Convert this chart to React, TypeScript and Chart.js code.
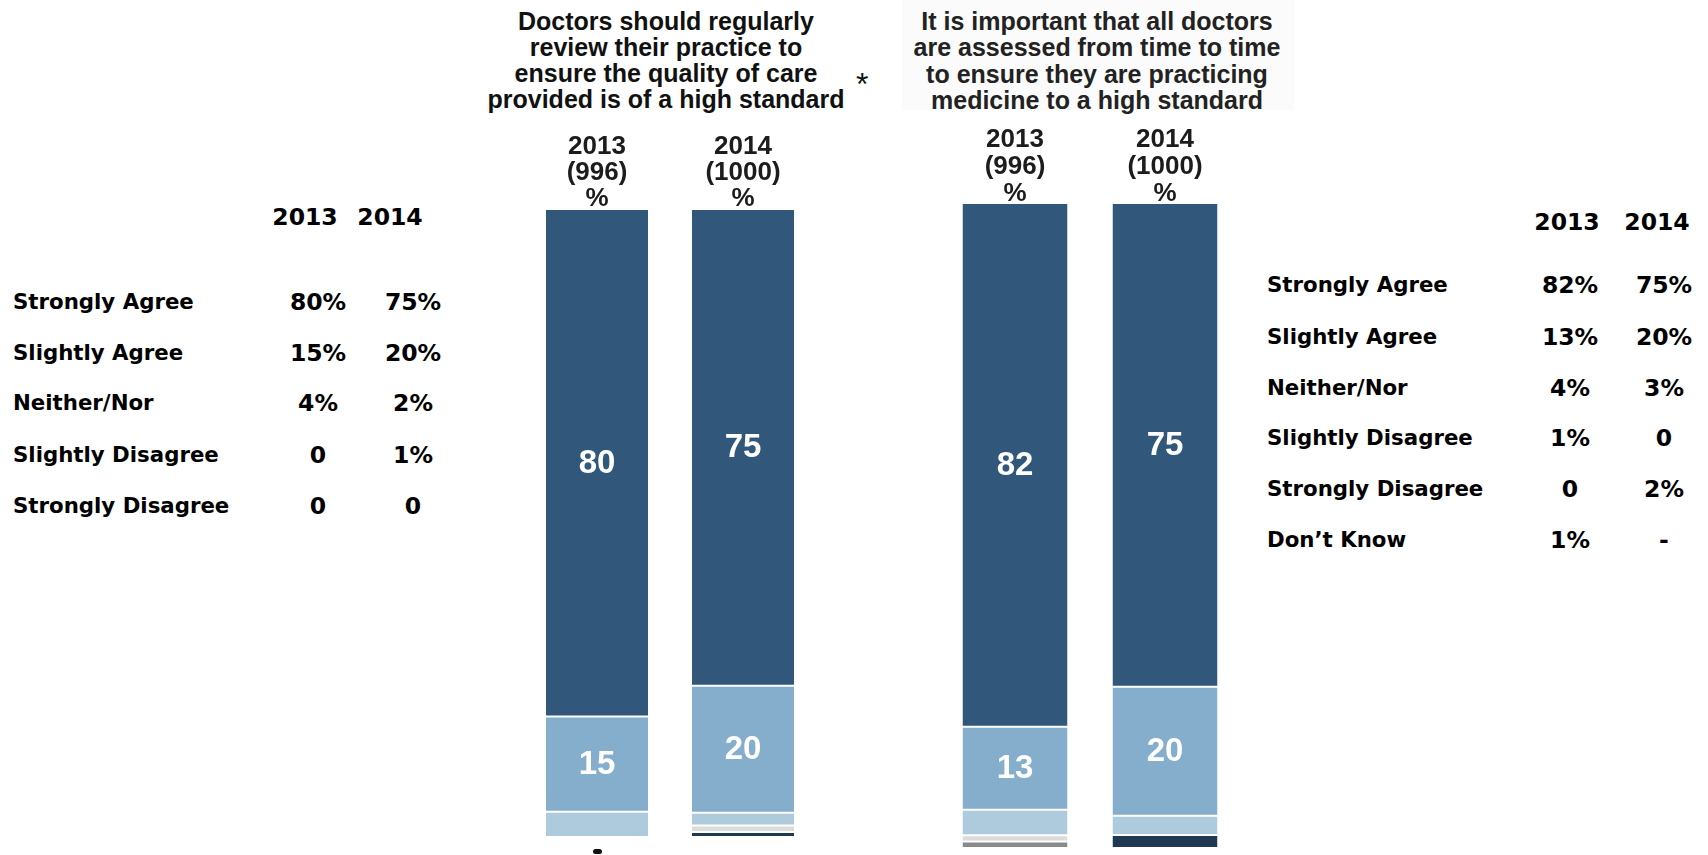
import React, { useEffect, useRef } from "react";
import { Chart, registerables } from "chart.js";
Chart.register(...registerables);

// ---------------- data ----------------
const responses = ["Strongly Agree", "Slightly Agree", "Neither/Nor", "Slightly Disagree", "Strongly Disagree", "Don\u2019t Know"];
const responseColors = ["#31587A", "#84AECB", "#AECADD", "#DCDCDC", "#1F3A50", "#8A8A8A"];
const years = ["2013", "2014"];
const q1Bases = ["(996)", "(1000)"];
const q2Bases = ["(996)", "(1000)"];

// bar segment values (order = responses)
const q1Values2013 = [80, 15, 4, 0, 0, 0];
const q1Values2014 = [75, 20, 2, 1, 0.8, 0];
const q2Values2013 = [82, 13, 4, 1, 0, 1];
const q2Values2014 = [75, 20, 3, 0, 2, 0];

// side tables
const q1TableRows = ["Strongly Agree", "Slightly Agree", "Neither/Nor", "Slightly Disagree", "Strongly Disagree"];
const q1Table2013 = ["80%", "15%", "4%", "0", "0"];
const q1Table2014 = ["75%", "20%", "2%", "1%", "0"];
const q2TableRows = ["Strongly Agree", "Slightly Agree", "Neither/Nor", "Slightly Disagree", "Strongly Disagree", "Don\u2019t Know"];
const q2Table2013 = ["82%", "13%", "4%", "1%", "0", "1%"];
const q2Table2014 = ["75%", "20%", "3%", "0", "2%", "-"];

const q1Title = ["Doctors should regularly", "review their practice to", "ensure the quality of care", "provided is of a high standard"];
const q2Title = ["It is important that all doctors", "are assessed from time to time", "to ensure they are practicing", "medicine to a high standard"];

// ---------------- helpers ----------------
const SANS = "'Liberation Sans', Arial, sans-serif";
const VERD = "'DejaVu Sans', Verdana, sans-serif";

const valueLabelPlugin = {
  id: "valueLabels",
  afterDatasetsDraw(chart: any) {
    const ctx = chart.ctx;
    ctx.save();
    ctx.font = `bold 33px ${SANS}`;
    ctx.fillStyle = "#ffffff";
    ctx.textAlign = "center";
    ctx.textBaseline = "middle";
    chart.data.datasets.forEach((ds: any, di: number) => {
      const meta = chart.getDatasetMeta(di);
      meta.data.forEach((bar: any, i: number) => {
        const raw = ds.rawValues[i];
        if (raw >= 10) {
          ctx.fillText(String(raw), bar.x, (bar.y + bar.base) / 2 + 1);
        }
      });
    });
    ctx.restore();
  },
};

function buildDatasets(a: number[], b: number[]) {
  const sumA = a.reduce((s, v) => s + v, 0);
  const sumB = b.reduce((s, v) => s + v, 0);
  // stack bottom -> top: Don't know, Strongly disagree, Slightly disagree, Neither, Slightly agree, Strongly agree
  const order = [5, 4, 3, 2, 1, 0];
  return order.map((k) => ({
    label: responses[k],
    data: [(a[k] / sumA) * 100, (b[k] / sumB) * 100],
    rawValues: [a[k], b[k]],
    backgroundColor: responseColors[k],
    borderColor: "#ffffff",
    borderWidth: { top: 1, bottom: 1, left: 0, right: 0 },
    borderSkipped: false,
    categoryPercentage: 1,
    barPercentage: 0.7,
  }));
}

function StackChart(props: {
  left: number; top: number; width: number; height: number;
  labels: string[][]; a: number[]; b: number[];
  axisHeight: number; padL: number; padR: number; padB: number; lineH: number; tickPad: number;
}) {
  const ref = useRef<HTMLCanvasElement | null>(null);
  useEffect(() => {
    if (!ref.current) return;
    const chart = new Chart(ref.current, {
      type: "bar",
      data: { labels: props.labels as any, datasets: buildDatasets(props.a, props.b) as any },
      options: {
        animation: false,
        responsive: false,
        maintainAspectRatio: false,
        layout: { padding: { left: props.padL, right: props.padR, top: 0, bottom: props.padB } },
        plugins: { legend: { display: false }, tooltip: { enabled: false }, title: { display: false } },
        scales: {
          x: {
            position: "top",
            stacked: true,
            grid: { display: false, drawTicks: false },
            border: { display: false },
            ticks: {
              color: "#1c1c1c",
              padding: props.tickPad,
              maxRotation: 0,
              autoSkip: false,
              font: { family: SANS, size: 26, weight: "bold", lineHeight: props.lineH / 26 },
            },
            afterFit: (s: any) => { s.height = props.axisHeight; },
          },
          y: { stacked: true, display: false, min: 0, max: 100 },
        },
      } as any,
      plugins: [valueLabelPlugin],
    });
    return () => chart.destroy();
  }, []);
  return (
    <canvas
      ref={ref}
      width={props.width}
      height={props.height}
      style={{ position: "absolute", left: props.left, top: props.top, width: props.width, height: props.height }}
    />
  );
}

function Title(props: { lines: string[]; cx: number; top: number; lineH: number; color: string }) {
  return (
    <div
      style={{
        position: "absolute", left: props.cx - 250, top: props.top, width: 500, textAlign: "center",
        fontFamily: SANS, fontWeight: "bold", fontSize: 25, lineHeight: `${props.lineH}px`, color: props.color,
        whiteSpace: "nowrap",
      }}
    >
      {props.lines.map((l, i) => <div key={i}>{l}</div>)}
    </div>
  );
}

function Table(props: {
  rows: string[]; c1: string[]; c2: string[]; labelX: number; rowY: number[];
  headerY: number; h1: number; h2: number; v1: number; v2: number;
}) {
  const cell = (text: string, cx: number, cy: number, size: number, key: string) => (
    <div key={key} style={{
      position: "absolute", left: cx - 60, top: cy - 15, width: 120, height: 30, lineHeight: "30px",
      textAlign: "center", fontFamily: VERD, fontWeight: "bold", fontSize: size, color: "#000", whiteSpace: "nowrap",
    }}>{text}</div>
  );
  return (
    <>
      {cell(years[0], props.h1, props.headerY, 23.5, "h1")}
      {cell(years[1], props.h2, props.headerY, 23.5, "h2")}
      {props.rows.map((r, i) => (
        <div key={"r" + i} style={{
          position: "absolute", left: props.labelX, top: props.rowY[i] - 15, height: 30, lineHeight: "30px",
          fontFamily: VERD, fontWeight: "bold", fontSize: 21.3, color: "#000", whiteSpace: "nowrap",
        }}>{r}</div>
      ))}
      {props.rows.map((_, i) => cell(props.c1[i], props.v1, props.rowY[i], 23.5, "a" + i))}
      {props.rows.map((_, i) => cell(props.c2[i], props.v2, props.rowY[i], 23.5, "b" + i))}
    </>
  );
}

export default function App() {
  const q1Labels = years.map((y, i) => [y, q1Bases[i], "%"]);
  const q2Labels = years.map((y, i) => [y, q2Bases[i], "%"]);
  return (
    <div style={{ position: "fixed", left: 0, top: 0, width: 1708, height: 855, background: "#fff", overflow: "hidden" }}>
      <div style={{ position: "absolute", left: 902, top: 0, width: 392, height: 110, background: "#fbfbfb" }} />
      <Title lines={q1Title} cx={666} top={8} lineH={26} color="#111" />
      <Title lines={q2Title} cx={1097} top={8} lineH={26.3} color="#222" />
      <div style={{ position: "absolute", left: 856, top: 66, fontFamily: SANS, fontSize: 32, color: "#111" }}>*</div>

      <StackChart left={500} top={100} width={340} height={755} labels={q1Labels}
        a={q1Values2013} b={q1Values2014} axisHeight={109} padL={24} padR={24} padB={18} lineH={26} tickPad={-3} />
      <StackChart left={916} top={100} width={348} height={755} labels={q2Labels}
        a={q2Values2013} b={q2Values2014} axisHeight={103} padL={24} padR={24} padB={7} lineH={27} tickPad={-4} />

      <div style={{ position: "absolute", left: 593, top: 849, width: 9, height: 5, borderRadius: 3, background: "#111" }} />

      <Table rows={q1TableRows} c1={q1Table2013} c2={q1Table2014} labelX={13}
        rowY={[302, 353, 403, 455, 506]} headerY={217} h1={305} h2={390} v1={318} v2={413} />
      <Table rows={q2TableRows} c1={q2Table2013} c2={q2Table2014} labelX={1267}
        rowY={[285, 337, 388, 438, 489, 540]} headerY={222} h1={1567} h2={1657} v1={1570} v2={1664} />
    </div>
  );
}
